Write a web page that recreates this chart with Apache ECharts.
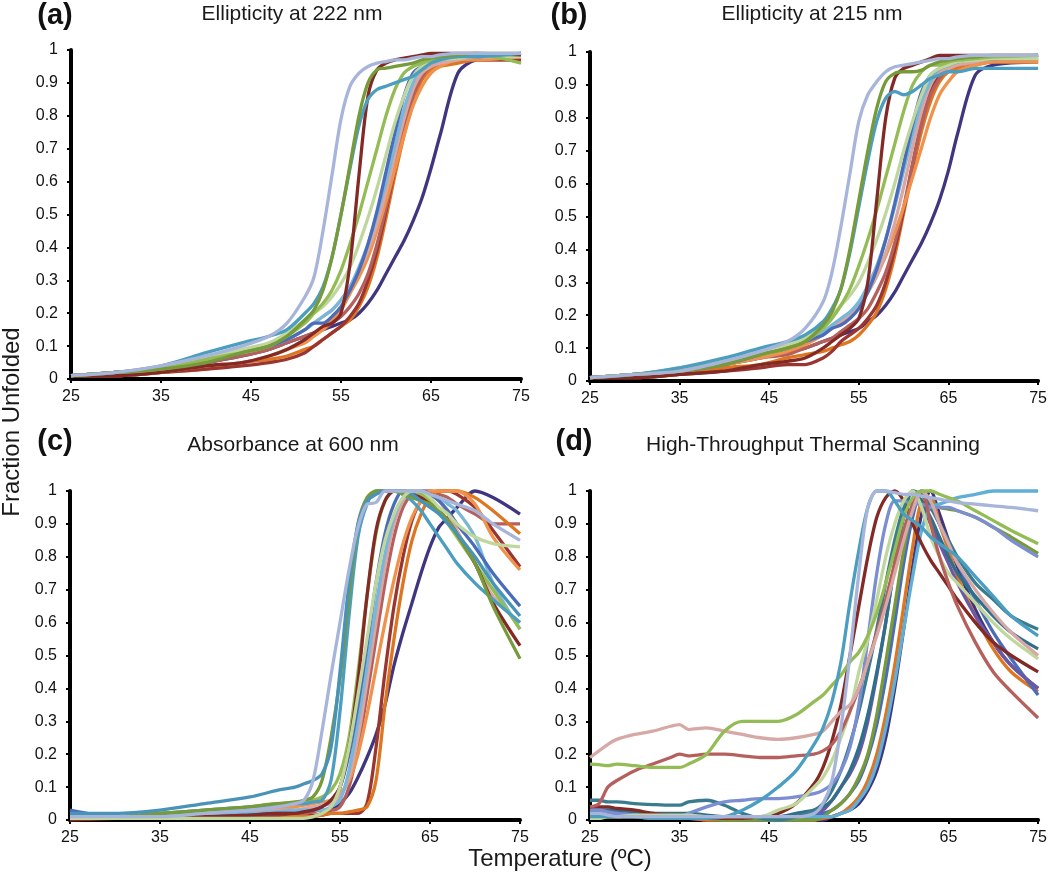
<!DOCTYPE html>
<html>
<head>
<meta charset="utf-8">
<script src="https://cdn.jsdelivr.net/npm/echarts@6/dist/echarts.min.js"></script>
<style>
html,body{margin:0;padding:0;background:#fff;}
#chart{width:1050px;height:873px;}
</style>
</head>
<body>
<div id="chart"></div>
<script>
// ---------- temperature grids (°C) ----------
const tempsAB = [25,30,35,40,44,47,49,51,52,53,54,55,56,57,58,59,60,61,62,63,64,65,66,68,70,75];
const tempsC  = [25,30,35,40,45,48,50,51,52,53,54,55,56,57,58,59,60,61,62,63,64,65,66,67,68,70,72,75];
const tempsD  = [25,26,27,28,30,32,34,35,36,38,40,42,44,46,48,50,51,52,53,54,55,56,57,58,59,60,61,62,63,64,65,66,68,70,72,75];
const xTicks = [25,35,45,55,65,75];

// ---------- (a) Ellipticity at 222 nm ----------
const aLavender   = [.01,.02,.04,.07,.1,.13,.17,.25,.31,.45,.62,.79,.89,.93,.95,.96,.965,.97,.97,.975,.98,.98,.985,.99,.99,.99];
const aOlive      = [.01,.02,.03,.05,.08,.1,.13,.18,.21,.27,.37,.5,.65,.8,.9,.94,.945,.95,.955,.96,.97,.975,.98,.985,.99,.99];
const aTeal       = [.01,.02,.04,.08,.11,.13,.15,.2,.23,.28,.37,.5,.64,.77,.85,.88,.89,.9,.91,.92,.94,.96,.97,.98,.98,.99];
const aDarkRed    = [.01,.01,.02,.04,.05,.07,.09,.12,.14,.16,.17,.2,.35,.62,.86,.94,.96,.97,.975,.98,.985,.99,.99,.99,.99,.985];
const aGreen      = [.01,.02,.03,.06,.08,.1,.13,.17,.2,.23,.27,.33,.41,.5,.6,.7,.8,.88,.93,.95,.96,.97,.975,.98,.985,.96];
const aLightGreen = [.01,.02,.03,.06,.09,.11,.14,.18,.2,.22,.25,.29,.34,.41,.49,.58,.68,.78,.86,.92,.95,.96,.97,.975,.98,.98];
const aBlue       = [.01,.02,.03,.05,.08,.1,.12,.15,.17,.17,.19,.22,.27,.33,.41,.51,.63,.75,.86,.93,.95,.96,.97,.98,.98,.99];
const aLightBlue  = [.01,.02,.03,.06,.08,.1,.12,.15,.17,.19,.21,.24,.28,.34,.41,.5,.6,.71,.82,.9,.95,.96,.97,.98,.98,.99];
const aPink       = [.01,.02,.03,.06,.08,.1,.12,.15,.17,.19,.21,.24,.28,.33,.39,.47,.57,.68,.79,.88,.93,.95,.96,.97,.98,.98];
const aOrange     = [.01,.01,.02,.04,.05,.07,.09,.11,.13,.15,.18,.21,.26,.31,.37,.45,.54,.64,.74,.83,.89,.93,.95,.97,.97,.98];
const aRose       = [.01,.02,.03,.05,.07,.09,.11,.13,.14,.15,.17,.19,.22,.26,.32,.41,.52,.64,.76,.86,.92,.95,.96,.97,.98,.98];
const aDarkRed2   = [.01,.01,.02,.03,.04,.05,.06,.08,.1,.12,.14,.16,.19,.23,.3,.39,.51,.64,.77,.87,.93,.95,.96,.97,.97,.97];
const aDarkOrange = [.01,.01,.02,.03,.05,.06,.07,.09,.1,.12,.14,.16,.18,.22,.28,.37,.49,.62,.74,.84,.91,.94,.95,.96,.97,.97];
const aPurple     = [.01,.02,.03,.05,.07,.09,.11,.13,.14,.15,.16,.17,.18,.2,.23,.27,.32,.37,.42,.48,.55,.64,.74,.93,.97,.98];

// ---------- (b) Ellipticity at 215 nm ----------
const bLavender   = [.01,.02,.03,.06,.09,.12,.16,.24,.33,.47,.63,.79,.87,.91,.94,.955,.96,.965,.97,.975,.98,.98,.985,.99,.99,.99];
const bOlive      = [.01,.02,.03,.05,.08,.1,.12,.17,.21,.28,.4,.55,.7,.83,.91,.935,.94,.94,.945,.96,.97,.975,.98,.985,.99,.99];
const bTeal       = [.01,.02,.04,.07,.1,.12,.14,.18,.22,.28,.39,.53,.67,.79,.86,.88,.87,.88,.9,.92,.93,.94,.94,.95,.95,.95];
const bDarkRed    = [.01,.01,.02,.03,.05,.06,.07,.1,.12,.14,.16,.19,.3,.55,.8,.92,.95,.96,.97,.98,.99,.99,.99,.99,.99,.99];
const bGreen      = [.01,.02,.03,.06,.08,.1,.12,.16,.19,.23,.28,.35,.43,.52,.62,.72,.82,.9,.94,.96,.96,.97,.975,.98,.985,.99];
const bLightGreen = [.01,.02,.03,.06,.09,.11,.13,.17,.2,.23,.26,.3,.36,.43,.51,.6,.7,.79,.87,.93,.95,.96,.97,.975,.98,.98];
const bBlue       = [.01,.02,.03,.05,.08,.1,.12,.14,.16,.17,.19,.22,.27,.34,.43,.54,.66,.78,.88,.93,.95,.96,.97,.98,.98,.99];
const bLightBlue  = [.01,.02,.04,.06,.09,.11,.13,.15,.17,.19,.21,.24,.29,.35,.43,.53,.64,.75,.85,.91,.95,.96,.97,.98,.98,.99];
const bPink       = [.01,.02,.03,.05,.08,.1,.12,.14,.16,.18,.2,.23,.27,.32,.39,.48,.59,.71,.82,.9,.94,.95,.96,.97,.98,.98];
const bOrange     = [.01,.02,.03,.05,.07,.09,.11,.14,.16,.18,.2,.23,.27,.32,.38,.45,.53,.62,.71,.8,.87,.91,.94,.96,.97,.97];
const bRose       = [.01,.02,.03,.05,.07,.08,.1,.12,.13,.15,.17,.19,.22,.27,.33,.42,.53,.66,.78,.87,.92,.95,.96,.97,.98,.98];
const bDarkRed2   = [.01,.01,.02,.03,.04,.05,.05,.07,.09,.12,.14,.16,.19,.23,.3,.4,.52,.66,.79,.88,.93,.95,.96,.97,.97,.98];
const bDarkOrange = [.01,.01,.02,.04,.05,.07,.08,.09,.1,.11,.12,.14,.17,.21,.28,.38,.51,.64,.76,.85,.91,.94,.95,.96,.97,.97];
const bPurple     = [.01,.02,.03,.05,.07,.09,.1,.12,.13,.14,.15,.16,.18,.2,.23,.27,.32,.37,.42,.48,.55,.64,.75,.93,.96,.97];

// ---------- (c) Absorbance at 600 nm ----------
const cLavender   = [.01,.01,.01,.02,.03,.04,.05,.06,.12,.27,.44,.6,.76,.89,.96,.965,1,1,1,1,1,.99,.98,.97,.96,.94,.9,.85];
const cTeal       = [.02,.02,.03,.05,.07,.09,.1,.11,.12,.14,.22,.45,.72,.9,.97,.99,1,1,1,.99,.97,.95,.93,.9,.87,.8,.72,.62];
const cOlive      = [.01,.01,.02,.03,.04,.05,.055,.06,.07,.12,.25,.43,.68,.9,.98,1,1,1,.99,.98,.97,.96,.94,.91,.87,.78,.65,.49];
const cTeal2      = [.01,.01,.02,.03,.04,.045,.05,.05,.055,.06,.12,.33,.62,.86,.96,1,1,1,.99,.97,.94,.9,.86,.82,.78,.72,.67,.6];
const cDarkRed    = [0,.005,.01,.01,.015,.02,.02,.025,.03,.04,.06,.1,.22,.42,.68,.88,.97,1,1,.99,.98,.96,.94,.91,.87,.78,.66,.53];
const cGreen      = [.01,.01,.02,.03,.04,.05,.05,.055,.06,.07,.09,.14,.25,.45,.68,.87,.97,1,1,1,.99,.97,.94,.9,.86,.78,.7,.58];
const cBlue       = [.03,.01,.01,.01,.015,.02,.02,.025,.03,.04,.06,.1,.2,.35,.53,.72,.87,.96,1,1,1,.99,.97,.94,.9,.83,.75,.65];
const cPaleGreen  = [.005,.005,.005,.005,.005,.005,.005,.005,.01,.02,.04,.1,.22,.38,.55,.72,.85,.93,.98,1,1,.98,.95,.93,.9,.86,.84,.83];
const cLightBlue  = [.01,.01,.01,.02,.02,.025,.03,.03,.03,.03,.04,.06,.15,.3,.47,.65,.81,.92,.98,1,1,.99,.98,.96,.94,.86,.72,.58];
const cPink       = [.01,.01,.015,.02,.025,.03,.03,.035,.04,.045,.05,.07,.13,.25,.42,.6,.77,.9,.97,1,1,.99,.97,.93,.88,.78,.68,.6];
const cOrange     = [.02,.01,.015,.02,.03,.035,.04,.045,.05,.055,.06,.08,.12,.2,.32,.46,.6,.73,.84,.92,.97,1,1,1,1,.96,.86,.76];
const cDarkOrange = [.01,.005,.005,.005,.005,.005,.01,.01,.01,.015,.02,.02,.025,.03,.04,.12,.35,.55,.72,.85,.93,.98,1,1,1,.98,.94,.87];
const cDarkRed2   = [.005,.005,.005,.005,.01,.01,.01,.01,.015,.015,.02,.02,.02,.02,.05,.22,.45,.65,.8,.91,.97,.99,1,1,.99,.95,.88,.77];
const cPurple     = [.01,.01,.01,.01,.01,.01,.01,.01,.01,.02,.03,.05,.08,.13,.19,.26,.35,.47,.57,.66,.75,.83,.89,.92,.95,1,.98,.93];
const cRose       = [.01,.01,.01,.01,.015,.02,.02,.02,.025,.03,.03,.04,.1,.22,.38,.55,.72,.86,.95,.99,1,1,.99,.98,.96,.93,.9,.9];

// ---------- (d) High-Throughput Thermal Scanning ----------
const dPink       = [.19,.21,.23,.245,.26,.27,.285,.29,.275,.28,.27,.26,.25,.245,.25,.26,.27,.3,.33,.35,.4,.48,.56,.65,.75,.85,.94,1,.97,.9,.84,.78,.7,.63,.57,.5];
const dRose       = [.04,.05,.1,.12,.15,.17,.19,.2,.195,.2,.2,.195,.19,.19,.195,.2,.21,.23,.27,.33,.4,.48,.57,.67,.78,.88,.96,1,.9,.8,.72,.65,.54,.45,.39,.31];
const dGreen      = [.17,.168,.165,.17,.165,.16,.16,.16,.17,.2,.27,.3,.3,.3,.32,.36,.38,.41,.44,.48,.51,.56,.63,.72,.82,.92,.98,1,1,.99,.98,.97,.94,.91,.88,.84];
const dDarkTeal   = [.06,.06,.055,.055,.05,.047,.045,.045,.055,.06,.045,.02,.005,0,.01,.03,.05,.09,.15,.23,.33,.45,.58,.72,.85,.95,1,.99,.95,.9,.85,.8,.72,.67,.62,.58];
const dBluePurple = [.03,.03,.025,.02,.015,.01,.01,.01,.02,.04,.055,.06,.065,.065,.07,.08,.09,.11,.15,.22,.35,.55,.75,.9,.97,.97,.96,.96,.95,.95,.95,.94,.92,.89,.85,.8];
const dTeal       = [.01,.01,.01,.01,.01,.005,.005,.005,.005,.005,.01,.03,.06,.1,.15,.23,.28,.36,.48,.66,.82,.95,1,1,.97,.93,.91,.89,.86,.84,.82,.8,.74,.68,.62,.56];
const dLavender   = [.02,.02,.015,.01,.01,.01,.01,.01,.01,.01,.01,.01,.01,.01,.01,.02,.05,.12,.28,.5,.75,.95,1,1,.995,.99,.99,.985,.98,.975,.97,.965,.96,.955,.95,.94];
const dLightBlue  = [.01,.01,.01,.01,.01,.01,.01,.01,.01,.01,.01,.01,.01,.01,.01,.01,.01,.01,.02,.03,.06,.1,.17,.28,.42,.58,.74,.88,.95,.96,.97,.98,.99,1,1,1];
const dOlive      = [.01,.01,.01,.01,.01,.005,.005,.005,.005,.005,0,0,0,0,0,0,.01,.03,.05,.08,.13,.2,.32,.48,.65,.82,.95,1,.97,.95,.945,.94,.92,.89,.86,.81];
const dDarkRed    = [.04,.04,.04,.035,.03,.02,.015,.015,.01,.005,.005,.005,.01,.02,.05,.11,.16,.24,.35,.5,.65,.8,.92,.98,1,.97,.9,.84,.79,.75,.71,.67,.6,.54,.5,.45];
const dPaleGreen  = [.005,.005,.01,.01,.015,.015,.015,.015,.015,.01,.01,.01,.01,.03,.05,.1,.13,.18,.25,.33,.45,.55,.67,.8,.9,.97,1,.95,.86,.8,.75,.72,.66,.6,.55,.49];
const dPurple     = [.02,.02,.02,.015,.01,.01,.005,.005,.005,0,0,0,0,0,0,0,0,.01,.02,.03,.05,.09,.15,.25,.4,.58,.77,.93,1,.93,.85,.77,.64,.54,.47,.4];
const dOrange     = [.01,.01,.01,.01,.01,.005,.005,.005,.005,0,0,0,0,0,0,0,.005,.01,.02,.04,.07,.12,.2,.32,.47,.65,.83,.97,.98,.9,.82,.74,.62,.52,.45,.39];
const dBlue       = [.02,.02,.02,.02,.015,.01,.01,.01,.01,.005,.005,0,0,0,0,.01,.02,.03,.05,.08,.12,.19,.29,.43,.6,.78,.92,1,.96,.9,.84,.78,.67,.57,.49,.38];
const dDarkTeal2  = [.03,.03,.03,.03,.025,.02,.02,.02,.02,.015,.01,.01,.01,.01,.02,.03,.04,.06,.1,.15,.22,.32,.45,.6,.78,.92,1,.97,.92,.86,.8,.75,.68,.62,.57,.52];
const dMidPurple  = [.03,.03,.03,.03,.025,.02,.015,.015,.01,.01,.005,.005,.005,.01,.01,.02,.03,.06,.1,.14,.2,.3,.44,.6,.78,.93,1,.96,.9,.84,.78,.72,.62,.54,.47,.4];

// ---------- styling ----------
const FONT = "'Liberation Sans', Arial, sans-serif";
const C = {
  lavender:'#A8B5DA', olive:'#779A3A', teal:'#4C9EC0', darkRed:'#832A26', green:'#94BC55',
  lightGreen:'#BFD79C', blue:'#4A6CB9', lightBlue:'#78B6DA', pink:'#D8A6A3', orange:'#F0924C',
  rose:'#B5605D', darkRed2:'#9A3530', darkOrange:'#DE7621', purple:'#40367F', darkTeal:'#3A7B8F',
  bluePurple:'#7C8ED2', midPurple:'#6A5AA6', darkTeal2:'#2F6F8A'
};

const panelA = [[aPurple,C.purple],[aDarkOrange,C.darkOrange],[aDarkRed2,C.darkRed2],[aRose,C.rose],[aOrange,C.orange],
  [aPink,C.pink],[aLightBlue,C.lightBlue],[aBlue,C.blue],[aLightGreen,C.lightGreen],[aGreen,C.green],
  [aDarkRed,C.darkRed],[aTeal,C.teal],[aOlive,C.olive],[aLavender,C.lavender]];
const panelB = [[bPurple,C.purple],[bDarkOrange,C.darkOrange],[bDarkRed2,C.darkRed2],[bRose,C.rose],[bOrange,C.orange],
  [bPink,C.pink],[bLightBlue,C.lightBlue],[bBlue,C.blue],[bLightGreen,C.lightGreen],[bGreen,C.green],
  [bDarkRed,C.darkRed],[bTeal,C.teal],[bOlive,C.olive],[bLavender,C.lavender]];
const panelC = [[cPurple,C.purple],[cRose,C.rose],[cDarkRed2,C.darkRed2],[cDarkOrange,C.darkOrange],[cOrange,C.orange],
  [cPink,C.pink],[cLightBlue,C.lightBlue],[cBlue,C.blue],[cGreen,C.green],[cDarkRed,C.darkRed],
  [cTeal2,C.teal],[cOlive,C.olive],[cTeal,'#4A93B8'],[cPaleGreen,C.lightGreen],[cLavender,C.lavender]];
const panelD = [[dPurple,C.purple],[dOrange,C.darkOrange],[dBlue,C.blue],[dMidPurple,C.midPurple],[dDarkTeal2,C.darkTeal2],
  [dOlive,C.olive],[dLightBlue,'#5FAFD6'],[dDarkRed,C.darkRed],[dDarkTeal,C.darkTeal],[dBluePurple,C.bluePurple],
  [dPaleGreen,C.lightGreen],[dRose,C.rose],[dPink,'#D6A9A6'],[dGreen,C.green],[dTeal,C.teal],[dLavender,C.lavender]];

const grids = [
  {left:71, top:50, width:450, height:329},
  {left:590, top:52, width:450, height:329},
  {left:70, top:491, width:450, height:329},
  {left:590, top:491, width:450, height:329}
];

function xAxisFor(i){
  return {gridIndex:i, type:'value', min:xTicks[0], max:xTicks[xTicks.length-1], interval:xTicks[1]-xTicks[0],
    axisLine:{show:true, onZero:false, lineStyle:{color:'#000', width:4}},
    axisTick:{show:true, length:4, lineStyle:{color:'#000', width:2}},
    splitLine:{show:false},
    axisLabel:{margin:10, fontSize:16, color:'#111', fontFamily:FONT}};
}
function yAxisFor(i){
  return {gridIndex:i, type:'value', min:0, max:1, interval:0.1,
    axisLine:{show:true, lineStyle:{color:'#000', width:4}},
    axisTick:{show:true, length:4, lineStyle:{color:'#000', width:2}},
    splitLine:{show:false},
    axisLabel:{margin:13, fontSize:16, color:'#111', fontFamily:FONT,
      formatter:function(v){ return (v===0||v===1) ? String(v) : (Math.round(v*10)/10).toFixed(1); }}};
}

const series = [];
function addPanel(panel, temps, idx){
  panel.forEach(function(p){
    series.push({type:'line', xAxisIndex:idx, yAxisIndex:idx, showSymbol:false, symbol:'none',
      smooth:0.3, clip:false, silent:true,
      lineStyle:{color:p[1], width:3.3},
      data: temps.map(function(t,k){ return [t, p[0][k]]; })});
  });
}
addPanel(panelA, tempsAB, 0);
addPanel(panelB, tempsAB, 1);
addPanel(panelC, tempsC, 2);
addPanel(panelD, tempsD, 3);

function label(txt, x, y){
  return {type:'text', x:x, y:y, style:{text:txt, font:'bold 29px '+FONT, fill:'#111', align:'center', verticalAlign:'middle'}};
}
function ttl(txt, x, y){
  return {type:'text', x:x, y:y, style:{text:txt, font:'21px '+FONT, fill:'#1a1a1a', align:'center', verticalAlign:'middle'}};
}

const option = {
  animation:false,
  backgroundColor:'#ffffff',
  grid: grids,
  xAxis: [0,1,2,3].map(xAxisFor),
  yAxis: [0,1,2,3].map(yAxisFor),
  series: series,
  graphic: [
    label('(a)', 55, 16), ttl('Ellipticity at 222 nm', 292, 14),
    label('(b)', 569, 16), ttl('Ellipticity at 215 nm', 812, 14),
    label('(c)', 55, 442), ttl('Absorbance at 600 nm', 293, 445),
    label('(d)', 574, 442), ttl('High-Throughput Thermal Scanning', 813, 445),
    {type:'text', x:12, y:422, rotation:Math.PI/2,
      style:{text:'Fraction Unfolded', font:'24px '+FONT, fill:'#1a1a1a', align:'center', verticalAlign:'middle'}},
    {type:'text', x:560, y:859,
      style:{text:'Temperature (ºC)', font:'24px '+FONT, fill:'#1a1a1a', align:'center', verticalAlign:'middle'}}
  ]
};

const chart = echarts.init(document.getElementById('chart'), null, {renderer:'canvas'});
chart.setOption(option);
</script>
</body>
</html>
